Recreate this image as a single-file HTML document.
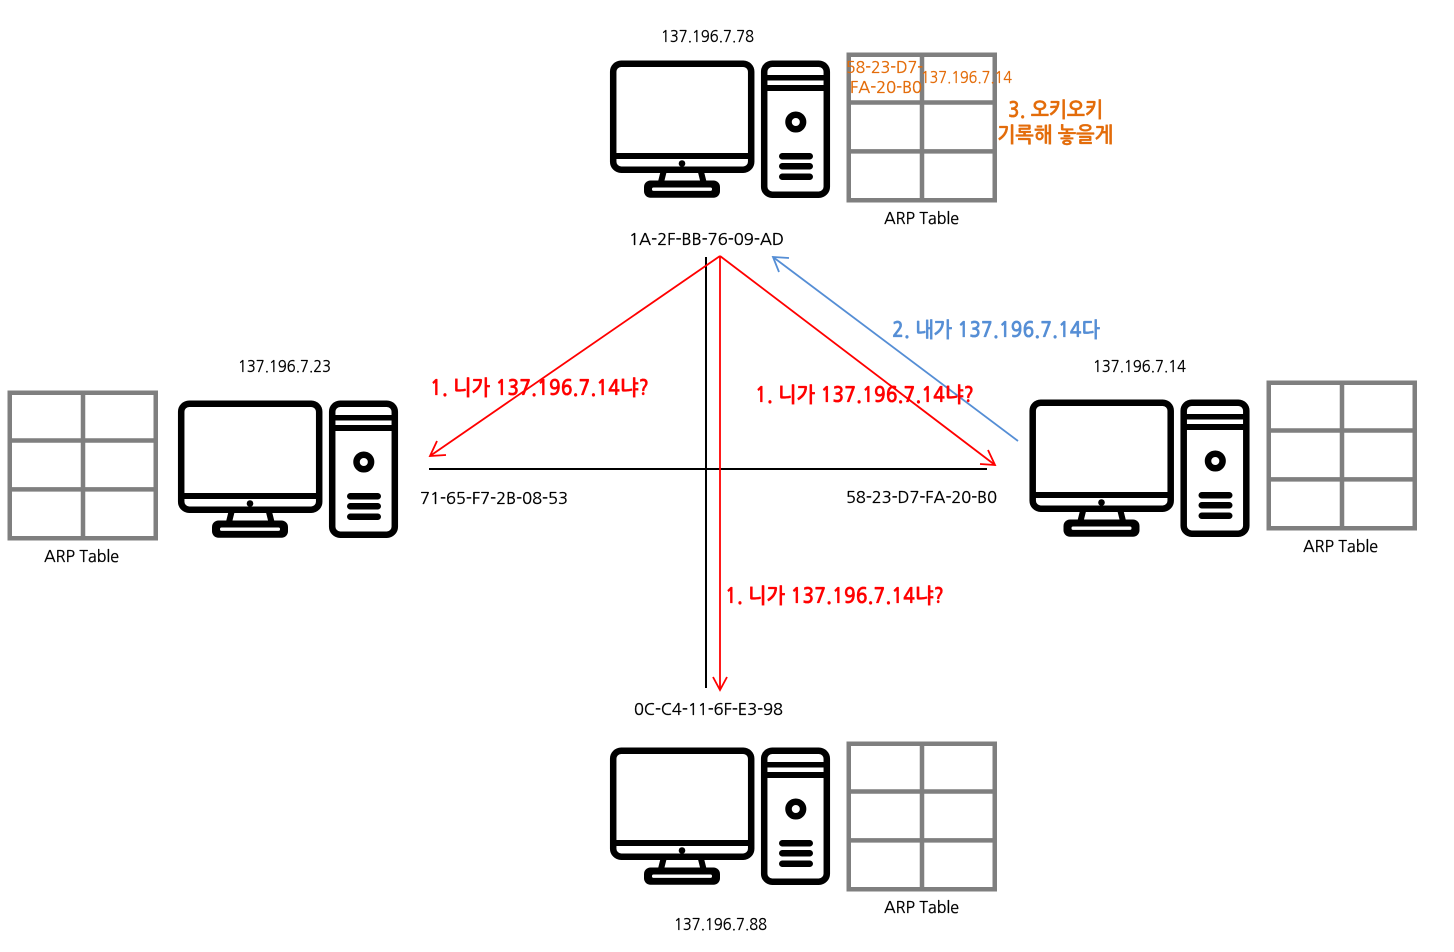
<!DOCTYPE html>
<html><head><meta charset="utf-8"><style>
html,body{margin:0;padding:0;background:#fff;width:1454px;height:952px;overflow:hidden}
svg{display:block}
text{font-family:"NanumGothic","Liberation Sans","Noto Sans CJK KR",sans-serif}
.b{font-size:16px;fill:#000;stroke:#000;stroke-width:.3}
.o{font-size:16px;fill:#e36c0a;stroke:#e36c0a;stroke-width:.3}
.ob{font-size:21px;fill:#e36c0a;font-weight:bold;stroke:#e36c0a;stroke-width:.3}
.r{font-size:21px;fill:#f00;font-weight:bold;stroke:#f00;stroke-width:.3}
.bl{font-size:21px;fill:#558ed5;font-weight:bold;stroke:#558ed5;stroke-width:.3}
</style></head><body>
<svg width="1454" height="952" viewBox="0 0 1454 952" xmlns="http://www.w3.org/2000/svg">
<defs>
<g id="pc">
<rect x="613.2" y="63.7" width="138" height="106" rx="8" fill="#fff" stroke="#000" stroke-width="6.5"/>
<rect x="613" y="153" width="138" height="6" fill="#000"/>
<circle cx="682" cy="163.500" r="3.300" fill="#000"/>
<path d="M663.500 172 L661 182 M701 172 L703.500 182" stroke="#000" stroke-width="6" fill="none"/>
<rect x="644" y="180.500" width="76" height="17.300" rx="6.500" fill="#000"/>
<rect x="652" y="187.500" width="60" height="3.400" rx="1.500" fill="#fff"/>
<rect x="764.200" y="63.700" width="62.600" height="131" rx="8" fill="#fff" stroke="#000" stroke-width="6.500"/>
<rect x="764" y="75" width="63" height="5.500" fill="#000"/>
<rect x="764" y="85" width="63" height="6" fill="#000"/>
<circle cx="795.800" cy="122" r="7.300" fill="#fff" stroke="#000" stroke-width="6.500"/>
<rect x="779" y="153" width="34" height="6.500" rx="3.250" fill="#000"/>
<rect x="779" y="163" width="34" height="6.500" rx="3.250" fill="#000"/>
<rect x="779" y="173.500" width="34" height="6.500" rx="3.250" fill="#000"/>
</g>
<g id="tb" fill="none" stroke="#7f7f7f" stroke-width="4.500">
<rect x="1.750" y="1.750" width="146" height="145.500"/>
<path d="M75 2V147M2 49.500H148M2 98.400H148"/>
</g>
</defs>

<use href="#pc"/>
<use href="#pc" transform="translate(-432 340)"/>
<use href="#pc" transform="translate(419.500 339)"/>
<use href="#pc" transform="translate(0 687)"/>

<use href="#tb" transform="translate(847 53)"/>
<use href="#tb" transform="translate(8 391)"/>
<use href="#tb" transform="translate(1267 381)"/>
<use href="#tb" transform="translate(847 742)"/>

<path d="M706 257V688M429 469H987" stroke="#000" stroke-width="2" fill="none"/>

<g stroke="#f00" stroke-width="1.800" fill="none">
<path d="M720 256L430 456M720 256L995 465M720 256V690"/>
<path d="M437 441L430 456L446 455"/>
<path d="M980 464L995 465L988 450"/>
<path d="M713 677L720 690L727 677"/>
</g>
<g stroke="#558ed5" stroke-width="1.800" fill="none">
<path d="M1018 441L773 257"/>
<path d="M779 272L773 257L789 258"/>
</g>

<text class="b" x="661" y="42" textLength="93" lengthAdjust="spacingAndGlyphs">137.196.7.78</text>
<text class="b" x="629" y="245" textLength="155" lengthAdjust="spacingAndGlyphs">1A-2F-BB-76-09-AD</text>
<text class="b" x="238" y="372" textLength="93" lengthAdjust="spacingAndGlyphs">137.196.7.23</text>
<text class="b" x="1093" y="372" textLength="93" lengthAdjust="spacingAndGlyphs">137.196.7.14</text>
<text class="b" x="420" y="504" textLength="148" lengthAdjust="spacingAndGlyphs">71-65-F7-2B-08-53</text>
<text class="b" x="846" y="503" textLength="151" lengthAdjust="spacingAndGlyphs">58-23-D7-FA-20-B0</text>
<text class="b" x="634" y="715" textLength="149" lengthAdjust="spacingAndGlyphs">0C-C4-11-6F-E3-98</text>
<text class="b" x="674" y="930" textLength="93" lengthAdjust="spacingAndGlyphs">137.196.7.88</text>
<text class="b" x="884" y="224" textLength="75" lengthAdjust="spacingAndGlyphs">ARP Table</text>
<text class="b" x="44" y="562" textLength="75" lengthAdjust="spacingAndGlyphs">ARP Table</text>
<text class="b" x="1303" y="552" textLength="75" lengthAdjust="spacingAndGlyphs">ARP Table</text>
<text class="b" x="884" y="913" textLength="75" lengthAdjust="spacingAndGlyphs">ARP Table</text>

<text class="o" x="846" y="73" textLength="77" lengthAdjust="spacingAndGlyphs">58-23-D7-</text>
<text class="o" x="850" y="93" textLength="72" lengthAdjust="spacingAndGlyphs">FA-20-B0</text>
<text class="o" x="921" y="83" textLength="91" lengthAdjust="spacingAndGlyphs">137.196.7.14</text>
<text class="ob" x="1008" y="117" textLength="95" lengthAdjust="spacingAndGlyphs">3. 오키오키</text>
<text class="ob" x="997" y="142" textLength="116" lengthAdjust="spacingAndGlyphs">기록해 놓을게</text>

<text class="r" x="430" y="395" textLength="219" lengthAdjust="spacingAndGlyphs">1. 니가 137.196.7.14냐?</text>
<text class="r" x="755" y="402" textLength="219" lengthAdjust="spacingAndGlyphs">1. 니가 137.196.7.14냐?</text>
<text class="r" x="725" y="603" textLength="219" lengthAdjust="spacingAndGlyphs">1. 니가 137.196.7.14냐?</text>
<text class="bl" x="892" y="337" textLength="208" lengthAdjust="spacingAndGlyphs">2. 내가 137.196.7.14다</text>
</svg>
</body></html>
